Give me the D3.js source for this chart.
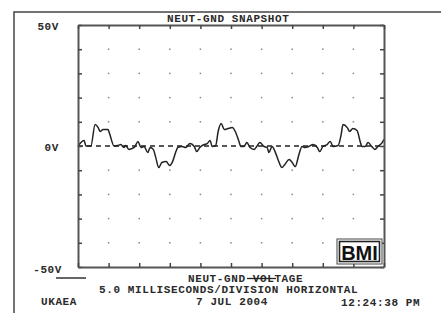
<!DOCTYPE html>
<html><head><meta charset="utf-8">
<script src="https://cdn.jsdelivr.net/npm/d3@7"></script>
<style>
html,body{margin:0;padding:0;background:#fff;}
svg{display:block;}
text{font-family:"Liberation Mono","DejaVu Sans Mono",monospace;font-size:11px;letter-spacing:0.6px;font-weight:bold;fill:#2a2a2a;}
</style></head>
<body>
<script>
// ---- data ----
const timeMs = [0,1.0,1.3,2.1,2.8,3.3,3.6,4.1,4.9,5.1,5.9,6.5,7.0,7.5,7.8,8.3,9.2,9.8,10.3,10.8,11.4,11.8,12.3,12.7,13.2,13.7,14.4,15.0,15.4,16.0,16.3,17.0,17.6,18.3,19.0,19.4,19.9,20.6,21.1,21.6,21.9,22.5,22.9,23.4,23.9,24.5,25.2,25.7,26.3,26.6,27.1,27.6,28.1,28.8,29.2,29.7,30.4,30.9,31.2,31.7,32.2,32.8,33.3,33.8,34.5,35.0,35.5,36.1,36.6,37.1,37.7,38.4,39.1,39.5,40.0,40.7,41.2,41.7,42.5,43.0,43.3,44.0,44.4,44.9,45.6,46.1,46.4,46.9,47.4,48.0,48.5,49.0,49.7,50];
const voltage = [0,2.3,0,0,8.9,7.6,6.0,6.8,6.8,5.6,0,0.2,0.6,-0.6,0.2,-1.4,-0.6,1.9,-0.6,-0.2,-2.7,-0.6,-1.4,-4.7,-8.9,-6.8,-6.4,-8.1,-6.8,-2.3,-0.6,-0.2,-0.6,1.0,-0.2,-2.3,-0.6,0.6,1.0,2.3,-0.2,0.2,6.0,9.3,6.8,7.2,7.6,6.0,1.9,-0.2,-0.2,1.4,-0.6,-1.4,-0.2,1.4,-0.2,-0.6,-2.7,-0.2,-2.3,-6.4,-8.9,-7.6,-5.6,-6.8,-8.5,-3.5,-0.2,-0.6,-0.2,0.6,-0.6,-2.3,-0.2,0.6,1.9,-0.2,0.2,4.7,8.9,7.6,6.0,7.2,6.4,1.9,-0.2,-0.2,1.4,-0.2,-1.4,-0.2,1.4,2.7];
const xTicks = [0,5,10,15,20,25,30,35,40,45,50];
const yTicks = [-50,-40,-30,-20,-10,0,10,20,30,40,50];
const yLabels = [50,0,-50];
const titleText = "NEUT-GND SNAPSHOT";
const axisTitle = "NEUT-GND VOLTAGE";
const scaleText = "5.0 MILLISECONDS/DIVISION HORIZONTAL";
const siteText = "UKAEA";
const dateText = "7 JUL 2004";
const timeText = "12:24:38 PM";
const logoText = "BMI";

// ---- drawing ----
const W = 441, H = 313;
const svg = d3.select("body").append("svg").attr("width", W).attr("height", H);
const x = d3.scaleLinear().domain([0,50]).range([78,384]);
const y = d3.scaleLinear().domain([-50,50]).range([267,25]);

// outer frame
svg.append("path").attr("d", `M14,313 L14,12 L441,12`).attr("fill","none").attr("stroke","#444").attr("stroke-width",1.5);

// grid dots
const inner = xTicks.slice(1,-1);
yTicks.slice(1,-1).filter(v => v !== 0).forEach(v => {
  svg.append("g").selectAll("rect").data(inner).join("rect")
    .attr("x", d => x(d)-0.75).attr("y", y(v)-0.75).attr("width",1.5).attr("height",1.5).attr("fill","#888");
});

// zero dashed line
svg.append("line").attr("x1", x(0)).attr("x2", x(50)).attr("y1", y(0)).attr("y2", y(0))
  .attr("stroke", "#222").attr("stroke-width", 1.5).attr("stroke-dasharray", "5,4");

// waveform
const line = d3.line().x((d,i)=>x(timeMs[i])).y(d=>y(d)).curve(d3.curveMonotoneX);
svg.append("path").datum(voltage).attr("d", line).attr("fill","none").attr("stroke","#222").attr("stroke-width",1.5);

// axes with inward ticks
function styleAxis(g){ g.select(".domain").attr("stroke","#555").attr("stroke-width",2);
  g.selectAll(".tick line").attr("stroke","#444").attr("stroke-width",1.5); g.selectAll(".tick text").remove(); }
svg.append("g").attr("transform",`translate(${x(0)},0)`).call(d3.axisLeft(y).tickValues(yTicks).tickSizeInner(-4).tickSizeOuter(0)).call(styleAxis);
svg.append("g").attr("transform",`translate(${x(50)},0)`).call(d3.axisRight(y).tickValues(yTicks).tickSizeInner(-4).tickSizeOuter(0)).call(styleAxis);
svg.append("g").attr("transform",`translate(0,${y(50)})`).call(d3.axisTop(x).tickValues(xTicks).tickSizeInner(-4).tickSizeOuter(0)).call(styleAxis);
svg.append("g").attr("transform",`translate(0,${y(-50)})`).call(d3.axisBottom(x).tickValues(xTicks).tickSizeInner(-4).tickSizeOuter(0)).call(styleAxis);

// y labels
svg.selectAll("text.yl").data(yLabels).join("text").attr("class","yl")
  .attr("x", d => d < 0 ? 62 : 59).attr("y", d => y(d) + (d < 0 ? 6 : 5))
  .attr("text-anchor","end").text(d => d + "V");

// title
svg.append("text").attr("x", 167).attr("y", 22).text(titleText);

// bottom texts
svg.append("line").attr("x1",56).attr("x2",86).attr("y1",278).attr("y2",278).attr("stroke","#333").attr("stroke-width",1.5);
svg.append("text").attr("x", 188).attr("y", 282).text(axisTitle);
svg.append("line").attr("x1", 247).attr("x2", 276).attr("y1", 278.5).attr("y2", 278.5).attr("stroke","#222").attr("stroke-width",1.3);
svg.append("text").attr("x", 99).attr("y", 293).text(scaleText);
svg.append("text").attr("x", 41).attr("y", 305).text(siteText);
svg.append("text").attr("x", 196).attr("y", 305).text(dateText);
svg.append("text").attr("x", 341).attr("y", 306).text(timeText);

// BMI logo
svg.append("rect").attr("x",337).attr("y",239).attr("width",45).attr("height",25).attr("fill","#fff").attr("stroke","#444").attr("stroke-width",1);
svg.append("rect").attr("x",339.5).attr("y",241.5).attr("width",40).attr("height",20).attr("fill","none").attr("stroke","#222").attr("stroke-width",1.6);
svg.append("text").attr("x",359.5).attr("y",259.5).attr("text-anchor","middle")
  .style("font-family","'Liberation Sans',Arial,sans-serif").style("font-weight","bold").style("font-size","20px").style("letter-spacing","0px").style("fill","#111")
  .text(logoText);
</script>
</body></html>
